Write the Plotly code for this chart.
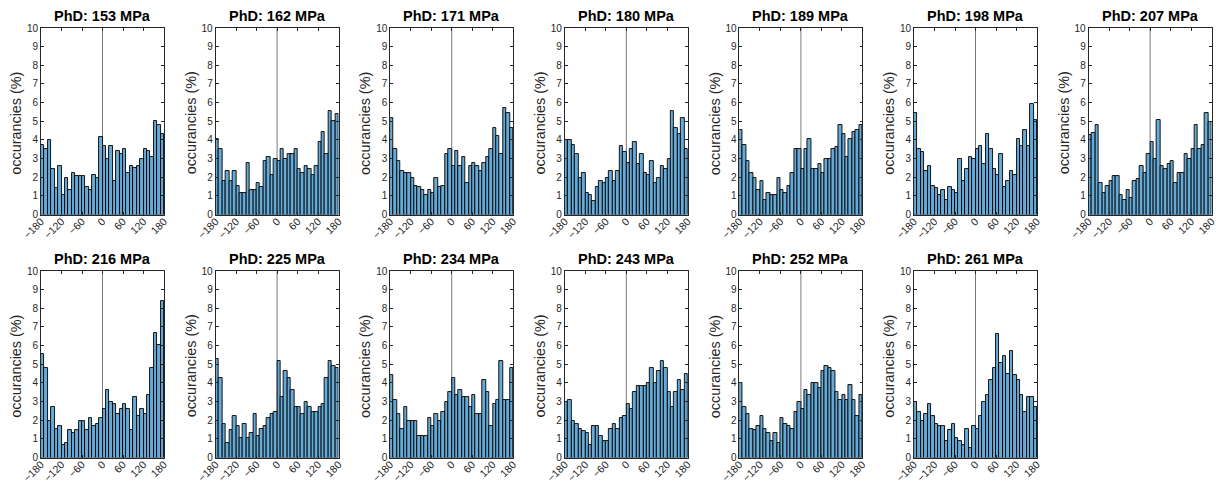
import plotly.graph_objects as go
import numpy as np

# ---- data -------------------------------------------------------------
PRESSURES = [153, 162, 171, 180, 189, 198, 207, 216, 225, 234, 243, 252, 261]
BIN_EDGES = list(range(-180, 181, 10))
X_TICKS = [-180, -120, -60, 0, 60, 120, 180]
Y_TICKS = list(range(0, 11))

p153 = [3.75, 3.5, 4.0, 2.45, 1.4, 2.6, 1.05, 1.95, 1.3, 2.2, 2.05, 2.05, 2.05, 1.45, 1.3, 2.1, 1.95, 4.15,
        3.65, 3.0, 3.65, 1.8, 3.4, 3.25, 3.5, 2.2, 2.6, 2.5, 2.6, 3.0, 3.5, 3.4, 3.1, 5.0, 4.8, 4.3]
p162 = [4.05, 3.5, 1.8, 2.35, 1.8, 2.35, 1.55, 1.15, 1.15, 2.75, 1.3, 1.3, 1.7, 1.45, 2.85, 3.1, 2.1, 3.0,
        2.85, 3.5, 3.0, 3.25, 3.25, 3.5, 2.45, 2.2, 2.6, 2.45, 2.1, 2.6, 3.9, 4.4, 3.25, 5.55, 5.0, 5.4]
p171 = [5.2, 3.5, 2.85, 2.35, 2.2, 2.2, 1.95, 1.55, 1.45, 1.3, 1.05, 1.3, 1.15, 1.95, 1.45, 1.55, 3.25, 3.5,
        2.6, 3.4, 2.6, 3.1, 1.7, 2.6, 2.75, 2.6, 2.35, 2.75, 3.1, 3.5, 4.65, 4.2, 3.25, 5.7, 5.45, 4.65]
p180 = [4.0, 4.0, 3.75, 3.25, 1.95, 2.2, 1.15, 1.05, 0.7, 1.45, 1.8, 1.7, 1.95, 2.35, 1.8, 2.35, 3.65, 3.35,
        2.75, 3.5, 3.9, 2.7, 3.25, 2.2, 2.1, 2.85, 1.7, 1.95, 2.6, 2.45, 3.0, 5.55, 4.65, 4.3, 5.2, 3.5]
p189 = [4.55, 3.75, 2.85, 2.2, 1.95, 1.3, 1.8, 0.8, 1.15, 1.05, 1.05, 1.95, 1.3, 1.15, 1.55, 2.2, 3.5, 3.5,
        2.45, 3.5, 4.05, 2.45, 2.45, 2.7, 2.2, 3.0, 3.0, 3.5, 3.6, 4.8, 4.3, 3.1, 4.05, 4.4, 4.55, 4.8]
p198 = [5.45, 3.5, 3.35, 2.35, 2.6, 1.55, 1.4, 1.05, 1.3, 0.8, 1.45, 1.3, 1.15, 3.0, 1.8, 2.45, 3.1, 3.0,
        3.5, 3.65, 2.7, 4.3, 3.5, 2.45, 2.1, 3.25, 1.45, 1.8, 2.35, 2.1, 4.05, 3.65, 4.55, 3.65, 5.95, 5.05]
p207 = [4.25, 4.35, 4.8, 1.7, 1.15, 1.55, 1.8, 2.05, 2.05, 1.05, 0.8, 1.3, 0.9, 1.8, 1.9, 2.6, 2.2, 3.25,
        3.9, 3.0, 5.05, 2.6, 2.45, 2.7, 2.85, 1.7, 2.2, 2.2, 3.25, 3.0, 3.5, 4.8, 3.5, 3.75, 5.45, 4.95]
p216 = [5.55, 4.8, 1.95, 2.7, 1.55, 1.7, 0.65, 0.8, 1.45, 1.3, 1.45, 1.95, 1.95, 1.45, 2.1, 1.7, 1.8, 2.1,
        2.6, 3.6, 3.0, 2.85, 2.35, 2.6, 2.85, 2.6, 1.45, 3.25, 2.2, 2.6, 2.35, 3.35, 4.8, 6.7, 6.05, 8.4]
p225 = [5.3, 4.25, 1.8, 0.8, 1.45, 2.2, 1.7, 1.05, 1.8, 1.05, 1.3, 2.35, 1.15, 1.55, 1.7, 2.1, 2.35, 2.45,
        5.2, 3.25, 4.65, 4.25, 3.6, 2.7, 2.7, 2.35, 3.0, 2.7, 2.45, 2.45, 2.7, 2.85, 4.25, 5.2, 4.9, 4.8]
p234 = [4.4, 3.1, 2.35, 1.55, 2.7, 1.95, 1.95, 1.95, 1.15, 1.15, 1.15, 2.1, 1.7, 2.35, 1.95, 2.45, 3.0, 3.5,
        4.25, 3.35, 3.6, 3.25, 3.25, 2.7, 3.35, 2.35, 2.35, 4.15, 3.5, 1.7, 2.85, 3.1, 5.2, 3.1, 3.1, 4.8]
p243 = [3.0, 3.1, 1.95, 1.8, 1.55, 1.4, 1.3, 0.65, 1.7, 1.7, 1.15, 0.9, 0.9, 1.55, 1.8, 1.55, 2.1, 2.2,
        2.85, 2.6, 3.5, 3.85, 3.85, 3.85, 4.0, 4.8, 4.0, 4.65, 5.15, 4.8, 3.5, 2.7, 3.5, 4.15, 3.6, 4.5]
p252 = [4.0, 2.7, 2.35, 1.55, 1.45, 1.7, 2.2, 1.55, 1.3, 0.9, 1.3, 0.8, 2.1, 1.8, 1.7, 1.55, 2.45, 3.0,
        2.6, 3.6, 3.35, 4.0, 4.0, 3.75, 4.65, 4.9, 4.8, 4.65, 3.5, 3.1, 3.35, 3.1, 3.9, 3.1, 2.2, 3.35]
p261 = [3.0, 2.45, 1.95, 2.35, 2.85, 2.2, 1.8, 1.7, 1.7, 0.9, 1.45, 1.8, 1.05, 0.9, 0.65, 1.55, 0.5, 1.7,
        1.55, 2.2, 3.0, 3.35, 4.15, 4.8, 6.6, 5.05, 5.45, 4.5, 5.7, 4.4, 4.15, 3.35, 2.45, 3.25, 3.25, 2.7]

SERIES = [p153, p162, p171, p180, p189, p198, p207, p216, p225, p234, p243, p252, p261]

# ---- layout geometry (pixels) ----------------------------------------
W, H = 1216, 486
COL_LEFT0, COL_STEP, PLOT_W = 41.0, 174.6, 123.0
ROW_TOPS = [28.0, 271.0]
PLOT_H = 186.5

FONT = "Liberation Sans, Arial, sans-serif"
AX_COLOR = "#262626"
BAR_COLOR = "rgb(102,170,215)"

edges = np.array(BIN_EDGES, dtype=float)
centers = (edges[:-1] + edges[1:]) / 2
widths = np.diff(edges)

fig = go.Figure()
layout = dict(
    width=W, height=H,
    margin=dict(l=0, r=0, t=0, b=0, pad=0, autoexpand=False),
    paper_bgcolor="white", plot_bgcolor="white",
    showlegend=False, bargap=0,
    font=dict(family=FONT, color=AX_COLOR, size=10),
)
annotations = []
shapes = []

for i, (p, vals) in enumerate(zip(PRESSURES, SERIES)):
    row, col = divmod(i, 7)
    n = "" if i == 0 else str(i + 1)
    left = COL_LEFT0 + col * COL_STEP
    top = ROW_TOPS[row]
    x0, x1 = left / W, (left + PLOT_W) / W
    y1 = 1 - top / H
    y0 = 1 - (top + PLOT_H) / H

    fig.add_trace(go.Bar(
        x=centers, y=vals, width=widths,
        marker=dict(color=BAR_COLOR, line=dict(color="black", width=0.9)),
        xaxis="x" + n, yaxis="y" + n, hoverinfo="x+y",
    ))

    layout["xaxis" + n] = dict(
        domain=[x0, x1], anchor="y" + n, range=[-180, 180], automargin=False,
        tickvals=X_TICKS, tickangle=-45, ticks="inside", ticklen=3,
        ticklabelstandoff=-4, ticklabeloverflow="allow",
        tickcolor=AX_COLOR, showline=True, linecolor=AX_COLOR, linewidth=0.8,
        mirror="ticks", showgrid=False, zeroline=False,
        tickfont=dict(size=10.5, family=FONT, color=AX_COLOR),
    )
    layout["yaxis" + n] = dict(
        domain=[y0, y1], anchor="x" + n, range=[0, 10], automargin=False,
        tickvals=Y_TICKS, ticks="inside", ticklen=3,
        tickcolor=AX_COLOR, showline=True, linecolor=AX_COLOR, linewidth=0.8,
        mirror="ticks", showgrid=False, zeroline=False,
        tickfont=dict(size=10, family=FONT, color=AX_COLOR),
    )

    # vertical reference line at 0
    shapes.append(dict(
        type="line", xref="x" + n, yref="y" + n, x0=0, x1=0, y0=0, y1=10,
        line=dict(color="#7a7a7a", width=1), layer="below",
    ))

    # panel title
    annotations.append(dict(
        text=f"<b>PhD: {p} MPa</b>", xref="paper", yref="paper",
        x=(x0 + x1) / 2, y=y1, xanchor="center", yanchor="bottom", yshift=2,
        showarrow=False, font=dict(size=14.5, family=FONT, color="black"),
    ))
    # y-axis label
    annotations.append(dict(
        text="occurancies (%)", xref="paper", yref="paper",
        x=(left - 24.5) / W, y=(y0 + y1) / 2, xanchor="center", yanchor="middle",
        yshift=-2, textangle=-90, showarrow=False,
        font=dict(size=14.4, family=FONT, color=AX_COLOR),
    ))

layout["annotations"] = annotations
layout["shapes"] = shapes
fig.update_layout(**layout)
fig.write_html(
    "out.html",
    config={"displayModeBar": False},
    post_script="document.body.style.margin='0';document.body.style.overflow='hidden';",
)
